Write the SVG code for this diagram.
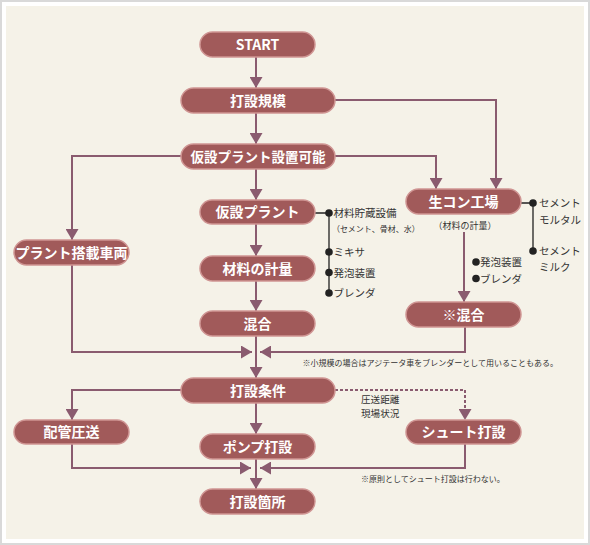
<svg xmlns="http://www.w3.org/2000/svg" width="590" height="545" viewBox="0 0 590 545">
<defs>
<style>
.node rect{fill:#a15a5a;stroke:#cf9593;stroke-width:1.5}
.node text{fill:#fff;font-family:"Noto Sans CJK JP","Noto Sans",sans-serif;font-weight:bold;font-size:14px;text-anchor:middle}
.conn path{fill:none;stroke:#8a5b6f;stroke-width:2}
.conn .dash{stroke-dasharray:3 2}
.blt path{fill:none;stroke:#222;stroke-width:1.3}
.blt circle{fill:#222}
.lbl{fill:#333;font-family:"Noto Sans CJK JP",sans-serif;font-size:10.5px}
.sm{fill:#333;font-family:"Noto Sans CJK JP",sans-serif;font-size:8px}
</style>
<marker id="ah" markerUnits="userSpaceOnUse" markerWidth="11" markerHeight="13" refX="11" refY="6.5" orient="auto" viewBox="0 0 11 13">
<path d="M0,0 L11,6.5 L0,13 z" fill="#8a5b6f"/>
</marker>
</defs>
<rect x="1" y="1" width="588" height="543" fill="#fff" stroke="#d9d9d9" stroke-width="2"/>
<rect x="6" y="6" width="578" height="533" fill="#f5f2e8"/>

<g class="conn">
<path d="M256,57 V88" marker-end="url(#ah)"/>
<path d="M256,113 V144" marker-end="url(#ah)"/>
<path d="M335,100 H496 V189" marker-end="url(#ah)"/>
<path d="M335,156 H436 V189" marker-end="url(#ah)"/>
<path d="M181,156 H72 V240" marker-end="url(#ah)"/>
<path d="M256,169 V200" marker-end="url(#ah)"/>
<path d="M256,224 V256" marker-end="url(#ah)"/>
<path d="M256,281 V311" marker-end="url(#ah)"/>
<path d="M256,336 V378" marker-end="url(#ah)"/>
<path d="M72,265 V352 H252" marker-end="url(#ah)"/>
<path d="M465,327 V352 H260" marker-end="url(#ah)"/>
<path d="M464,232 V302" marker-end="url(#ah)"/>
<path d="M181,390 H72 V420" marker-end="url(#ah)"/>
<path d="M256,403 V434" marker-end="url(#ah)"/>
<path class="dash" d="M335,390 H465 V420" marker-end="url(#ah)"/>
<path d="M72,444 V468 H251" marker-end="url(#ah)"/>
<path d="M465,444 V468 H260" marker-end="url(#ah)"/>
<path d="M256,459 V489" marker-end="url(#ah)"/>
</g>

<g class="blt">
<path d="M315,213 H329 V293"/>
<circle cx="329" cy="213" r="3.8"/>
<circle cx="329" cy="252" r="3.8"/>
<circle cx="329" cy="272.5" r="3.8"/>
<circle cx="329" cy="293" r="3.8"/>
<path d="M521,203 H533 V251"/>
<circle cx="533" cy="203" r="3.8"/>
<circle cx="533" cy="251" r="3.8"/>
<circle cx="476" cy="262" r="3.8"/>
<circle cx="476" cy="278.5" r="3.8"/>
</g>

<g id="n-start" class="node"><rect x="200" y="32" width="115" height="25" rx="12.5"/><text x="257.5" y="49.5">START</text></g>
<g id="n-kibo" class="node"><rect x="181" y="88" width="154" height="25" rx="12.5"/><text x="258" y="105.5">打設規模</text></g>
<g id="n-kasetsu-kano" class="node"><rect x="181" y="144" width="154" height="25" rx="12.5"/><text x="258" y="161.5" style="font-size:13.5px">仮設プラント設置可能</text></g>
<g id="n-kasetsu" class="node"><rect x="200" y="200" width="115" height="24" rx="12"/><text x="257.5" y="217">仮設プラント</text></g>
<g id="n-keiryo" class="node"><rect x="200" y="256" width="115" height="25" rx="12.5"/><text x="257.5" y="273.5">材料の計量</text></g>
<g id="n-kongo" class="node"><rect x="200" y="311" width="115" height="25" rx="12.5"/><text x="257.5" y="328.5">混合</text></g>
<g id="n-tosai" class="node"><rect x="14" y="240" width="115" height="25" rx="12.5"/><text x="71.5" y="257.5">プラント搭載車両</text></g>
<g id="n-namacon" class="node"><rect x="406" y="189" width="115" height="25" rx="12.5"/><text x="463.5" y="206.5">生コン工場</text></g>
<g id="n-kongo2" class="node"><rect x="406" y="302" width="115" height="25" rx="12.5"/><text x="463.5" y="319.5">※混合</text></g>
<g id="n-joken" class="node"><rect x="181" y="378" width="154" height="25" rx="12.5"/><text x="258" y="395.5">打設条件</text></g>
<g id="n-haikan" class="node"><rect x="14" y="420" width="115" height="24" rx="12"/><text x="71.5" y="437">配管圧送</text></g>
<g id="n-pump" class="node"><rect x="200" y="434" width="115" height="25" rx="12.5"/><text x="257.5" y="451.5">ポンプ打設</text></g>
<g id="n-chute" class="node"><rect x="406" y="420" width="115" height="24" rx="12"/><text x="463.5" y="437">シュート打設</text></g>
<g id="n-kasho" class="node"><rect x="200" y="489" width="115" height="25" rx="12.5"/><text x="257.5" y="506.5">打設箇所</text></g>

<g id="labels">
<text class="lbl" x="333.5" y="217">材料貯蔵設備</text>
<text class="sm" x="332" y="231.5">（セメント、骨材、水）</text>
<text class="lbl" x="333.5" y="256">ミキサ</text>
<text class="lbl" x="333.5" y="276.5">発泡装置</text>
<text class="lbl" x="333.5" y="297">ブレンダ</text>
<text class="lbl" x="465" y="229" style="font-size:9px;text-anchor:middle">（材料の計量）</text>
<text class="lbl" x="539" y="207">セメント</text>
<text class="lbl" x="539" y="223.5">モルタル</text>
<text class="lbl" x="539" y="255">セメント</text>
<text class="lbl" x="539" y="271">ミルク</text>
<text class="lbl" x="480" y="266">発泡装置</text>
<text class="lbl" x="480" y="282.5">ブレンダ</text>
<text class="sm" x="302.5" y="365.5">※小規模の場合はアジテータ車をブレンダーとして用いることもある。</text>
<text class="lbl" x="361" y="403" style="font-size:9.6px">圧送距離</text>
<text class="lbl" x="361" y="417" style="font-size:9.6px">現場状況</text>
<text class="sm" x="361" y="481.5">※原則としてシュート打設は行わない。</text>
</g>
</svg>
